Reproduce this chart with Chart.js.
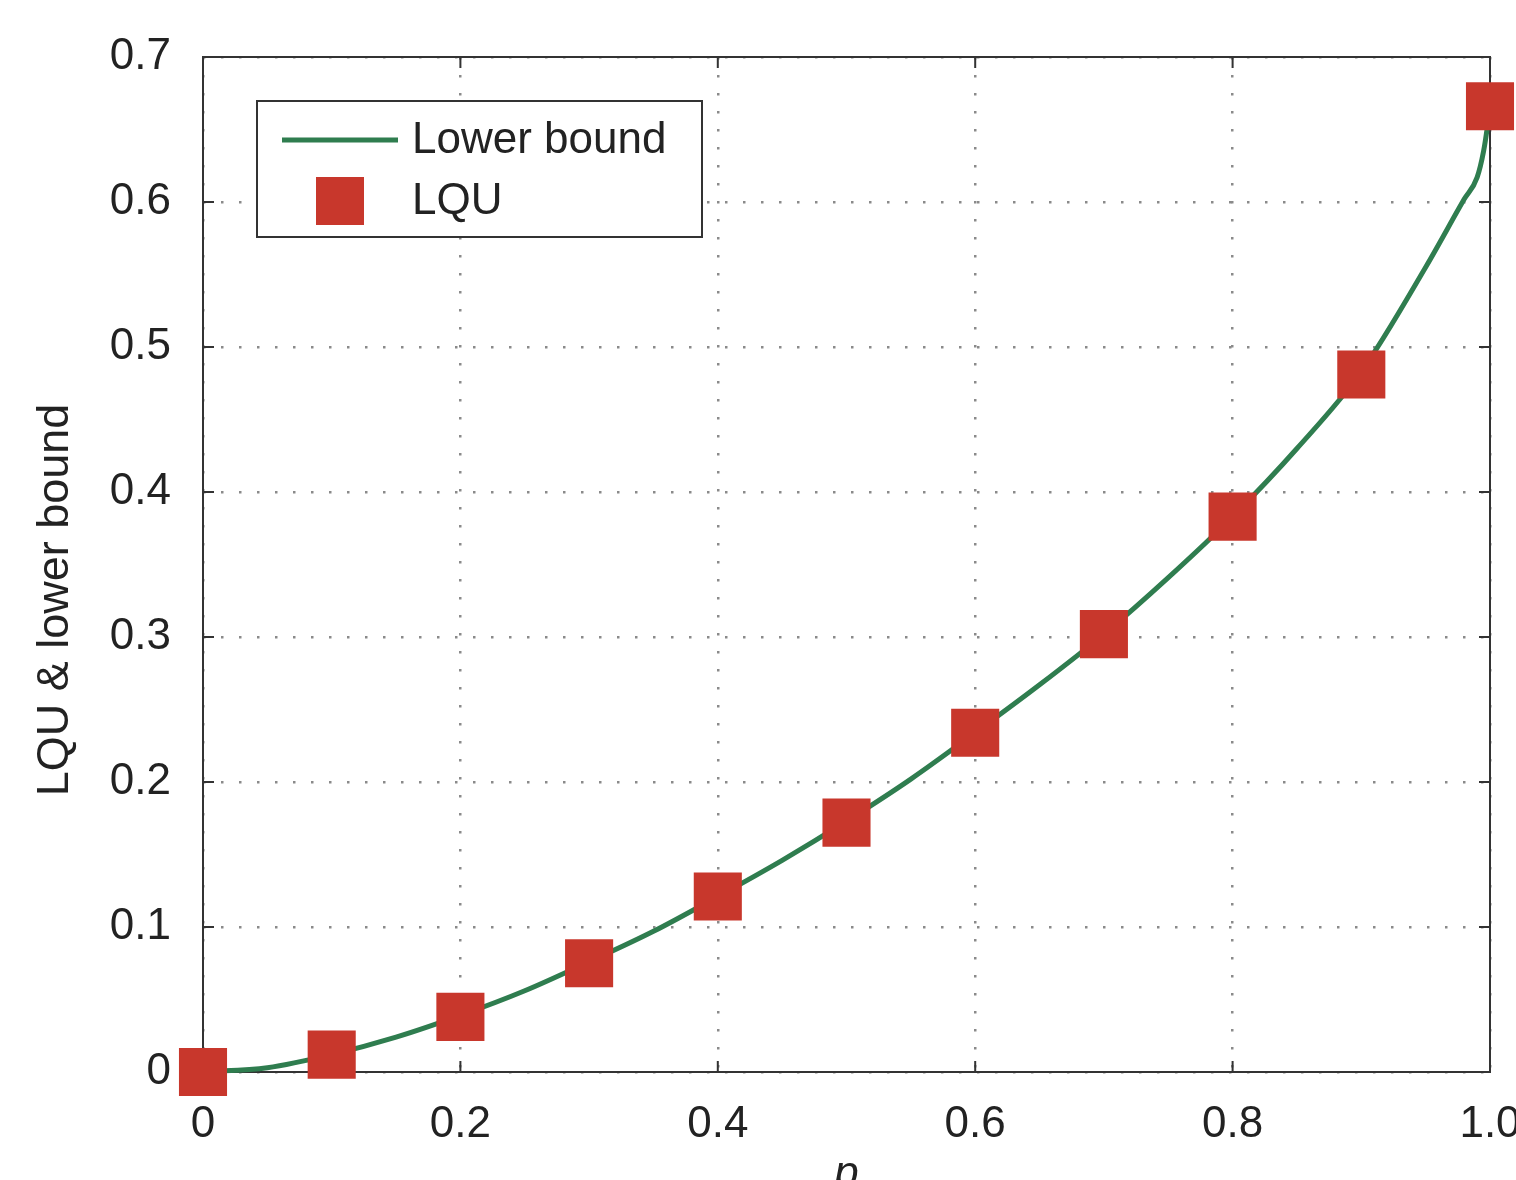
<!DOCTYPE html>
<html>
<head>
<meta charset="utf-8">
<script src="https://cdn.jsdelivr.net/npm/chart.js@4/dist/chart.umd.min.js"></script>
<style>
html,body{margin:0;padding:0;background:#fff;}
#c{display:block;}
</style>
</head>
<body>
<canvas id="c" width="1516" height="1180"></canvas>
<script>
// ---- data ----
const boundP = [0, 0.05, 0.1, 0.15, 0.2, 0.25, 0.3, 0.35, 0.4, 0.45, 0.5, 0.55, 0.6, 0.65, 0.7, 0.75, 0.8, 0.85, 0.9, 0.95, 0.98, 0.99, 0.995, 0.998, 1.0];
const boundV = [0, 0.003, 0.012, 0.024, 0.039, 0.056, 0.076, 0.097, 0.121, 0.146, 0.173, 0.202, 0.234, 0.267, 0.302, 0.341, 0.383, 0.430, 0.483, 0.555, 0.602, 0.617, 0.635, 0.652, 0.666];
const lquP = [0, 0.1, 0.2, 0.3, 0.4, 0.5, 0.6, 0.7, 0.8, 0.9, 1.0];
const lquV = [0, 0.012, 0.038, 0.075, 0.121, 0.172, 0.234, 0.302, 0.383, 0.481, 0.666];
const xTickLabels = ['0', '0.2', '0.4', '0.6', '0.8', '1.0'];
const yTickLabels = ['0', '0.1', '0.2', '0.3', '0.4', '0.5', '0.6', '0.7'];
const seriesNames = ['Lower bound', 'LQU'];
const xTitle = 'p';
const yTitle = 'LQU & lower bound';

const GREEN = '#2f7d4f';
const RED = '#c8372c';
const FONT = '"Liberation Sans", Arial, Helvetica, sans-serif';
const TXT = '#222';

const framePlugin = {
  id: 'frame',
  beforeDatasetsDraw(chart) {
    const {ctx, chartArea: a, scales: {x, y}} = chart;
    ctx.save();
    ctx.strokeStyle = '#333';
    ctx.lineWidth = 2;
    ctx.strokeRect(a.left, a.top, a.right - a.left, a.bottom - a.top);
    const t = 11;
    ctx.beginPath();
    x.ticks.forEach(tk => {
      const px = x.getPixelForValue(tk.value);
      ctx.moveTo(px, a.bottom); ctx.lineTo(px, a.bottom - t);
      ctx.moveTo(px, a.top); ctx.lineTo(px, a.top + t);
    });
    y.ticks.forEach(tk => {
      const py = y.getPixelForValue(tk.value);
      ctx.moveTo(a.left, py); ctx.lineTo(a.left + t, py);
      ctx.moveTo(a.right, py); ctx.lineTo(a.right - t, py);
    });
    ctx.stroke();
    ctx.restore();
  },
  afterDraw(chart) {
    const {ctx, chartArea: a} = chart;
    ctx.save();
    // axis titles
    ctx.fillStyle = TXT;
    ctx.font = '45px ' + FONT;
    ctx.translate(56, 600);
    ctx.rotate(-Math.PI / 2);
    ctx.textAlign = 'center';
    ctx.textBaseline = 'middle';
    ctx.fillText(yTitle, 0, 0);
    ctx.setTransform(1, 0, 0, 1, 0, 0);
    ctx.font = 'italic 44px ' + FONT;
    ctx.textAlign = 'center';
    ctx.textBaseline = 'alphabetic';
    ctx.fillText(xTitle, (a.left + a.right) / 2, 1187);
    // legend
    const L = a.left + 54, T = a.top + 44, W = 445, H = 136;
    ctx.fillStyle = '#fff';
    ctx.fillRect(L, T, W, H);
    ctx.strokeStyle = '#333';
    ctx.lineWidth = 2;
    ctx.strokeRect(L, T, W, H);
    ctx.strokeStyle = GREEN;
    ctx.lineWidth = 5;
    ctx.beginPath();
    ctx.moveTo(L + 25, T + 39);
    ctx.lineTo(L + 141, T + 39);
    ctx.stroke();
    ctx.fillStyle = RED;
    ctx.fillRect(L + 59, T + 76, 48, 48);
    ctx.fillStyle = TXT;
    ctx.font = '44px ' + FONT;
    ctx.textAlign = 'left';
    ctx.textBaseline = 'middle';
    ctx.fillText(seriesNames[0], L + 155, T + 40);
    ctx.fillText(seriesNames[1], L + 155, T + 101);
    ctx.restore();
  }
};

new Chart(document.getElementById('c'), {
  data: {
    datasets: [
      {
        type: 'scatter',
        label: seriesNames[1],
        data: lquP.map((p, i) => ({x: p, y: lquV[i]})),
        pointStyle: 'rect',
        pointRadius: 34,
        pointHoverRadius: 34,
        backgroundColor: RED,
        borderWidth: 0,
        clip: false,
        order: 1
      },
      {
        type: 'line',
        label: seriesNames[0],
        data: boundP.map((p, i) => ({x: p, y: boundV[i]})),
        borderColor: GREEN,
        borderWidth: 5,
        pointRadius: 0,
        cubicInterpolationMode: 'monotone',
        fill: false,
        clip: false,
        order: 2
      }
    ]
  },
  options: {
    responsive: false,
    devicePixelRatio: 1,
    animation: false,
    events: [],
    layout: {autoPadding: false, padding: {top: 57, right: 26, left: 0, bottom: 0}},
    plugins: {legend: {display: false}, tooltip: {enabled: false}, title: {display: false}},
    scales: {
      x: {
        type: 'linear', min: 0, max: 1,
        border: {display: false, dash: [2.5, 15.5]},
        grid: {color: '#8a8a8a', lineWidth: 2.5, drawTicks: false},
        ticks: {
          stepSize: 0.2, padding: 26, maxRotation: 0, autoSkip: false,
          color: TXT, font: {family: FONT, size: 44},
          callback: (v, i) => xTickLabels[i]
        },
        afterFit(s) { s.height = 108; s.paddingLeft = 0; s.paddingRight = 0; }
      },
      y: {
        type: 'linear', min: 0, max: 0.7,
        border: {display: false, dash: [2.5, 15.5]},
        grid: {color: '#8a8a8a', lineWidth: 2.5, drawTicks: false},
        ticks: {
          stepSize: 0.1, padding: 32, autoSkip: false,
          color: TXT, font: {family: FONT, size: 44},
          callback: (v, i) => yTickLabels[i]
        },
        afterFit(s) { s.width = 203; s.paddingTop = 0; s.paddingBottom = 0; }
      }
    }
  },
  plugins: [framePlugin]
});
</script>
</body>
</html>
